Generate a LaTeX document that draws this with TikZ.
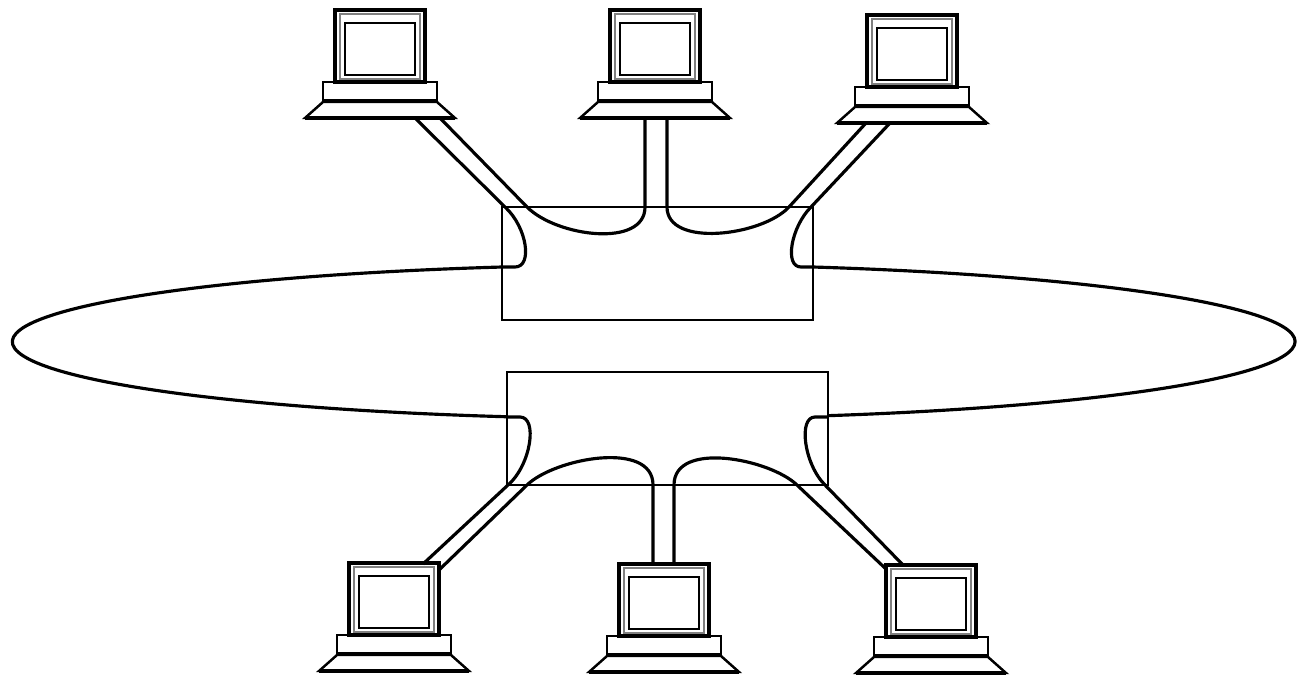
\documentclass[tikz,border=0pt]{standalone}
\begin{document}
\begin{tikzpicture}[x={(0.02cm,0)}, y={(0,-0.02cm)},
    ring/.style={line width=1.8pt, line join=round},
    hub/.style={draw, line width=1.6pt, inner sep=0pt, outer sep=0pt, minimum height=2.26cm},
    pics/computer/.style={code={
        % monitor
        \node[draw, line width=1.8pt, minimum width=1.8cm, minimum height=1.44cm, inner sep=0pt] (-mon) at (0,36) {};
        \draw[gray, line width=0.9pt] (-40,4) rectangle (40,69);
        \draw[line width=1.5pt] (-35,13) rectangle (35,65);
        % keyboard
        \draw[line width=1.5pt] (-57,72) rectangle (57,90);
        \draw[line width=1.4pt] (-57,92) -- (57,92) -- (75,108) -- (-75,108) -- cycle;
        \draw[line width=2.4pt] (-75,108) -- (75,108);
    }}]
    \useasboundingbox (0,0) rectangle (1297,676);

    % Hubs
    \node[hub, minimum width=6.22cm] (hubT) at (657.5,263.5) {};
    \node[hub, minimum width=6.42cm] (hubB) at (667.5,428.5) {};

    % Computers
    \pic (pcA) at (380,10) {computer};
    \pic (pcB) at (655,10) {computer};
    \pic (pcC) at (912,15) {computer};
    \pic (pcD) at (394,563) {computer};
    \pic (pcE) at (664,564) {computer};
    \pic (pcF) at (931,565) {computer};

    % Ring (outer part)
    \draw[ring] (502,267) arc[start angle=256.3, end angle=103.2, x radius=641.5, y radius=77];
    \draw[ring] (813,267) arc[start angle=-75.6, end angle=74.2, x radius=641.5, y radius=77];

    % Upper hub wiring
    \draw[ring] (502,267) -- (515,267) .. controls (533,267) and (527,227) .. (505,207) -- (415,118);
    \draw[ring] (440,118) -- (527,207) .. controls (557,237) and (645,248) .. (645,207) -- (645,118);
    \draw[ring] (667,118) -- (667,207) .. controls (667,248) and (762,236) .. (789,207) -- (866,123);
    \draw[ring] (890,123) -- (811,207) .. controls (791,227) and (784,267) .. (801,267) -- (813,267);

    % Lower hub wiring
    \draw[ring] (507,417) -- (520,417) .. controls (538,417) and (531,465) .. (508,485) -- (423,564);
    \draw[ring] (439,570) -- (527,485) .. controls (555,458) and (653,440) .. (653,485) -- (653,564);
    \draw[ring] (674,564) -- (674,485) .. controls (674,440) and (770,459) .. (797,485) -- (886,569);
    \draw[ring] (903,565) -- (825,485) .. controls (804,464) and (798,417) .. (815,417) -- (828,417);
\end{tikzpicture}
\end{document}
